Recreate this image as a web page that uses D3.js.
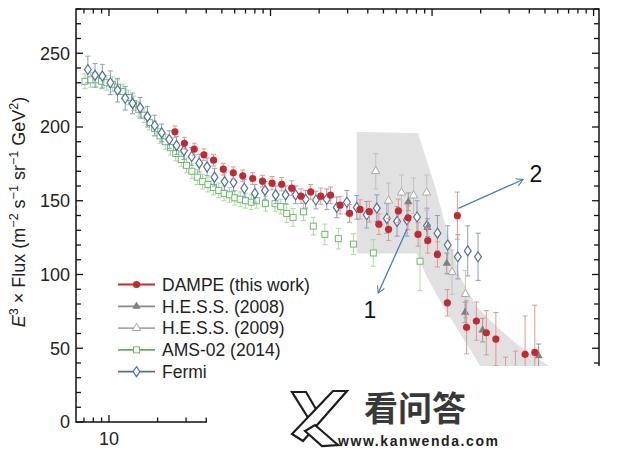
<!DOCTYPE html>
<html><head><meta charset="utf-8">
<script src="https://cdn.jsdelivr.net/npm/d3@7"></script>
<style>
html,body{margin:0;padding:0;background:#fff;}
svg{display:block;font-family:"Liberation Sans",Arial,Helvetica,sans-serif;}
</style></head>
<body><svg id="c" width="640" height="451"></svg>
<script>
// ---------- data (energy GeV, E^3 x flux, error) ----------
const dampeE = [25.6,29.3,33.7,38.7,44.4,51.0,58.8,67.3,77.6,89.2,102.2,117.3,135.3,154.5,177.4,204.6,235.3,269.4,308.5,358.3,409.2,468.4,538,618.6,710.2,819,940.6,1079,1244,1434,1635,1881,2166,2483,2852,3280,3767,4325];
const dampeF = [196.7,189.0,185.0,181.2,177.5,171.4,168.9,166.9,165.1,163.3,161.9,161.2,158.5,153.1,156.0,153.1,153.8,147.0,141.4,144.1,142.6,134.1,130.6,143.1,138.4,127.2,123.0,113.6,80.8,139.9,64.2,68.4,60.5,56.2,32,28,45.9,47.2];
const dampeErr = [4,4,4,4,4,4,4,4,4,4,4.5,4.5,5,5,5,5.5,5.5,6,6,6.5,7,7,7.5,8,8,8,8.5,8.5,9,16,18,13,15,18,12,20,26,32];

const fermiE = [7.4,8.2,9.1,10.2,11.3,12.6,14.0,15.6,17.3,19.2,21.2,23.6,26.2,29.1,32.5,36.2,40.5,45,52,59,68.8,80,92.4,107.7,124,143,165,191,223,257,297,342,394,455,525,607,700,807,930,1080,1250,1443,1663,1926];
const fermiF = [239,235,234.5,230,225,219.5,216,213,207,201,196,191.5,187.5,184,180,175.5,173,166,163,162.5,158.5,155,157,154,154,154,151,150.5,151,145.5,149,145.5,140.5,145,138,136,137,139,133,128,120,112,116,112];
const fermiErr = [9,8,8,8,8,8,7,7,7,7,6,6,6,6,6,6,6,6,6,6,6,6,6,6,6,6,6,6,7,7,8,8,9,9,10,10,11,11,12,12,13,15,17,16];

const amsE = [7.1,7.7,8.3,9.0,9.7,10.5,11.3,12.2,13.2,14.2,15.3,16.5,17.8,19.2,20.7,22.3,24.0,25.9,28.0,30.2,32.6,35.2,38.0,41,44.3,47.8,51.6,55.7,60.1,64.9,70,76,82,93,106.6,115.7,126,138,160,184,217,263,326,433,843];
const amsF = [231,232,232,231,230,229,227,224,220,216,212,208,203,199,194,190,186,182,178,174,170,166,163,161,159,157,155,154,152,151,150,149,150,148,148,146,141.4,138.7,142.5,132.8,127.2,124.3,120.6,114.6,109];
const amsErr = [5,5,5,5,5,5,5,5,5,5,5,5,5,5,5,5,5,5,5,5,5,5,5,5,5,5,5,5,5,5,5,5,5,5,5,5,6,6,6,6,7,7,7,9,20];

const hess08E = [713,938,1233,1601,2055,4565];
const hess08F = [149.3,131.8,107.5,74.3,62.3,44.9];
const hess08Err = [6,6,7,7,8,8];

const hess09E = [448,538,647,768,927,1330,1608];
const hess09F = [170,150,155.5,153.5,155.5,101.5,86.7];
const hess09Err = [12,12,12,12,12,15,16];

// H.E.S.S. systematic band outline (E, value)
const bandE = [342,819,1045,1234,1490,1890,2515,3505,5380,8000,2600,1890,1490,1175,927,803,342];
const bandF = [196.7,195.8,159.4,130,98.4,78.1,64.6,51,37.5,25,15,42,60.1,78.1,98.4,114.3,114.3];

const yMajor = [0,50,100,150,200,250];
const xLabels = [10];
const legendNames = ["DAMPE (this work)","H.E.S.S. (2008)","H.E.S.S. (2009)","AMS-02 (2014)","Fermi"];

// annotations: [fromE, fromF, toE, toF, labelE, labelF, text]
const notes = [[700,130.8,464,87.4,413,70.5,"1"],[1456,144.8,3656,164.4,4400,163,"2"]];

// ---------- layout ----------
const svg = d3.select("#c");
const x = d3.scaleLog().domain([6.25,10800]).range([76,599]);
const y = d3.scaleLinear().domain([0,280]).range([422,9]);
const X0=76,X1=599,Y0=422,Y1=9;

// band
const bandPts = bandE.map((e,i)=>[x(e),y(bandF[i])]);
svg.append("path").attr("d", d3.line()(bandPts)+"Z").attr("fill","#e1e1e1").attr("stroke","none");

// ---------- markers ----------
const sym = {
  dampe: (g)=>g.append("circle").attr("r",3.6).attr("fill","#c32a2f"),
  hess08:(g)=>g.append("path").attr("d",d3.symbol(d3.symbolTriangle,30)()).attr("fill","#7f7f7f"),
  hess09:(g)=>g.append("path").attr("d",d3.symbol(d3.symbolTriangle,30)()).attr("fill","#fff").attr("stroke","#a9a9a9").attr("stroke-width",1),
  ams:   (g)=>g.append("rect").attr("x",-3).attr("y",-3).attr("width",6).attr("height",6).attr("fill","#fff").attr("stroke","#6cbc62").attr("stroke-width",1),
  fermi: (g)=>g.append("path").attr("d","M0,-5L3.4,0L0,5L-3.4,0Z").attr("fill","#fff").attr("stroke","#52709f").attr("stroke-width",1.2)
};

function series(E,F,Er,key,errColor){
  const g = svg.append("g");
  E.forEach((e,i)=>{
    const cx=x(e), ya=y(F[i]-Er[i]), yb=y(F[i]+Er[i]);
    g.append("line").attr("x1",cx).attr("x2",cx).attr("y1",ya).attr("y2",yb).attr("stroke",errColor).attr("stroke-width",1);
    g.append("line").attr("x1",cx-2.5).attr("x2",cx+2.5).attr("y1",ya).attr("y2",ya).attr("stroke",errColor).attr("stroke-width",1);
    g.append("line").attr("x1",cx-2.5).attr("x2",cx+2.5).attr("y1",yb).attr("y2",yb).attr("stroke",errColor).attr("stroke-width",1);
  });
  E.forEach((e,i)=>{
    const m = g.append("g").attr("transform",`translate(${x(e)},${y(F[i])})`);
    sym[key](m);
  });
}
series(amsE,amsF,amsErr,"ams","#acd9a4");
series(fermiE,fermiF,fermiErr,"fermi","#8b9dc2");
series(hess09E,hess09F,hess09Err,"hess09","#c2c2c2");
series(hess08E,hess08F,hess08Err,"hess08","#9a9a9a");
series(dampeE,dampeF,dampeErr,"dampe","#e39595");

// ---------- axes ----------
const ax = svg.append("g").attr("font-size",18).attr("fill","#222");
const minorY = d3.range(0,281,10).filter(v=>v%50!==0);
const xTicksAll = [];
[1,10,100,1000,10000].forEach(d=>{for(let k=1;k<10;k++){const v=d*k; if(v>=6.25&&v<=10800) xTicksAll.push(v);}});
const xMajor = xTicksAll.filter(v=>[10,100,1000,10000].includes(v));
const xMinor = xTicksAll.filter(v=>![10,100,1000,10000].includes(v));

function tick(x1,y1,x2,y2){ax.append("line").attr("x1",x1).attr("y1",y1).attr("x2",x2).attr("y2",y2).attr("stroke","#111").attr("stroke-width",1.3);}
yMajor.forEach(v=>{tick(X0,y(v),X0+7,y(v)); tick(X1,y(v),X1-7,y(v));});
minorY.forEach(v=>{tick(X0,y(v),X0+5,y(v)); tick(X1,y(v),X1-5,y(v));});
xMajor.forEach(v=>{tick(x(v),Y0,x(v),Y0-7); tick(x(v),Y1,x(v),Y1+7);});
xMinor.forEach(v=>{tick(x(v),Y0,x(v),Y0-4.5); tick(x(v),Y1,x(v),Y1+4.5);});
ax.append("rect").attr("x",X0).attr("y",Y1).attr("width",X1-X0).attr("height",Y0-Y1).attr("fill","none").attr("stroke","#111").attr("stroke-width",1.5);

yMajor.forEach(v=>ax.append("text").attr("x",70).attr("y",y(v)).attr("dy","0.36em").attr("text-anchor","end").text(v));
xLabels.forEach(v=>ax.append("text").attr("x",x(v)).attr("y",445).attr("text-anchor","middle").text(v));

// y title
const yt = svg.append("text").attr("transform","translate(25,212) rotate(-90)").attr("text-anchor","middle").attr("font-size",18).attr("fill","#222");
yt.append("tspan").attr("font-style","italic").text("E");
yt.append("tspan").attr("dy",-7).attr("font-size",12.5).text("3");
yt.append("tspan").attr("dy",7).text(" × Flux (m");
yt.append("tspan").attr("dy",-7).attr("font-size",12.5).text("−2");
yt.append("tspan").attr("dy",7).text(" s");
yt.append("tspan").attr("dy",-7).attr("font-size",12.5).text("−1");
yt.append("tspan").attr("dy",7).text(" sr");
yt.append("tspan").attr("dy",-7).attr("font-size",12.5).text("−1");
yt.append("tspan").attr("dy",7).text(" GeV");
yt.append("tspan").attr("dy",-7).attr("font-size",12.5).text("2");
yt.append("tspan").attr("dy",7).text(")");

// ---------- legend ----------
const legKeys = ["dampe","hess08","hess09","ams","fermi"];
const legCol = ["#c32a2f","#8a8a8a","#a9a9a9","#5cb552","#52709f"];
const lg = svg.append("g");
legendNames.forEach((n,i)=>{
  const yy = 284.5 + i*21.8;
  lg.append("line").attr("x1",118).attr("x2",155).attr("y1",yy).attr("y2",yy).attr("stroke",legCol[i]).attr("stroke-width",1.8);
  const m = lg.append("g").attr("transform",`translate(136.5,${yy})`);
  sym[legKeys[i]](m);
  lg.append("text").attr("x",162).attr("y",yy).attr("dy","0.36em").attr("font-size",17.5).attr("fill","#222").text(n);
});

// ---------- annotations ----------
svg.append("defs").append("marker").attr("id","ah").attr("viewBox","-10 -6 12 12").attr("refX",0).attr("refY",0)
  .attr("markerWidth",10).attr("markerHeight",10).attr("markerUnits","userSpaceOnUse").attr("orient","auto")
  .append("path").attr("d","M-8,-4.5L0,0L-8,4.5").attr("fill","none").attr("stroke","#4a7fb0").attr("stroke-width",1.3);
notes.forEach(n=>{
  svg.append("line").attr("x1",x(n[0])).attr("y1",y(n[1])).attr("x2",x(n[2])).attr("y2",y(n[3]))
    .attr("stroke","#4a7fb0").attr("stroke-width",1.3).attr("marker-end","url(#ah)");
  svg.append("text").attr("x",x(n[4])).attr("y",y(n[5])).attr("text-anchor","middle").attr("font-size",23).attr("fill","#111").text(n[6]);
});

// ---------- watermark ----------
svg.append("rect").attr("x",207).attr("y",366).attr("width",433).attr("height",85).attr("fill","#fff");
const wm = svg.append("g").attr("fill","#fff").attr("stroke","#1e1e1e").attr("stroke-width",2.2).attr("stroke-linejoin","miter");
wm.append("path").attr("d","M292,392L306,392L320,416L312,424Z");
wm.append("path").attr("d","M333,391L347,391L303,441L292,434Z");
wm.append("path").attr("d","M305,431L315,425L338,445L322,446Z");
svg.append("text").attr("x",364).attr("y",421).attr("font-family","'Noto Sans CJK SC'").attr("font-weight","bold").attr("font-size",34).attr("fill","#383838").text("看问答");
svg.append("text").attr("x",338).attr("y",446).attr("font-weight","bold").attr("font-size",14).attr("textLength",160).attr("fill","#222").text("www.kanwenda.com");
</script></body></html>
